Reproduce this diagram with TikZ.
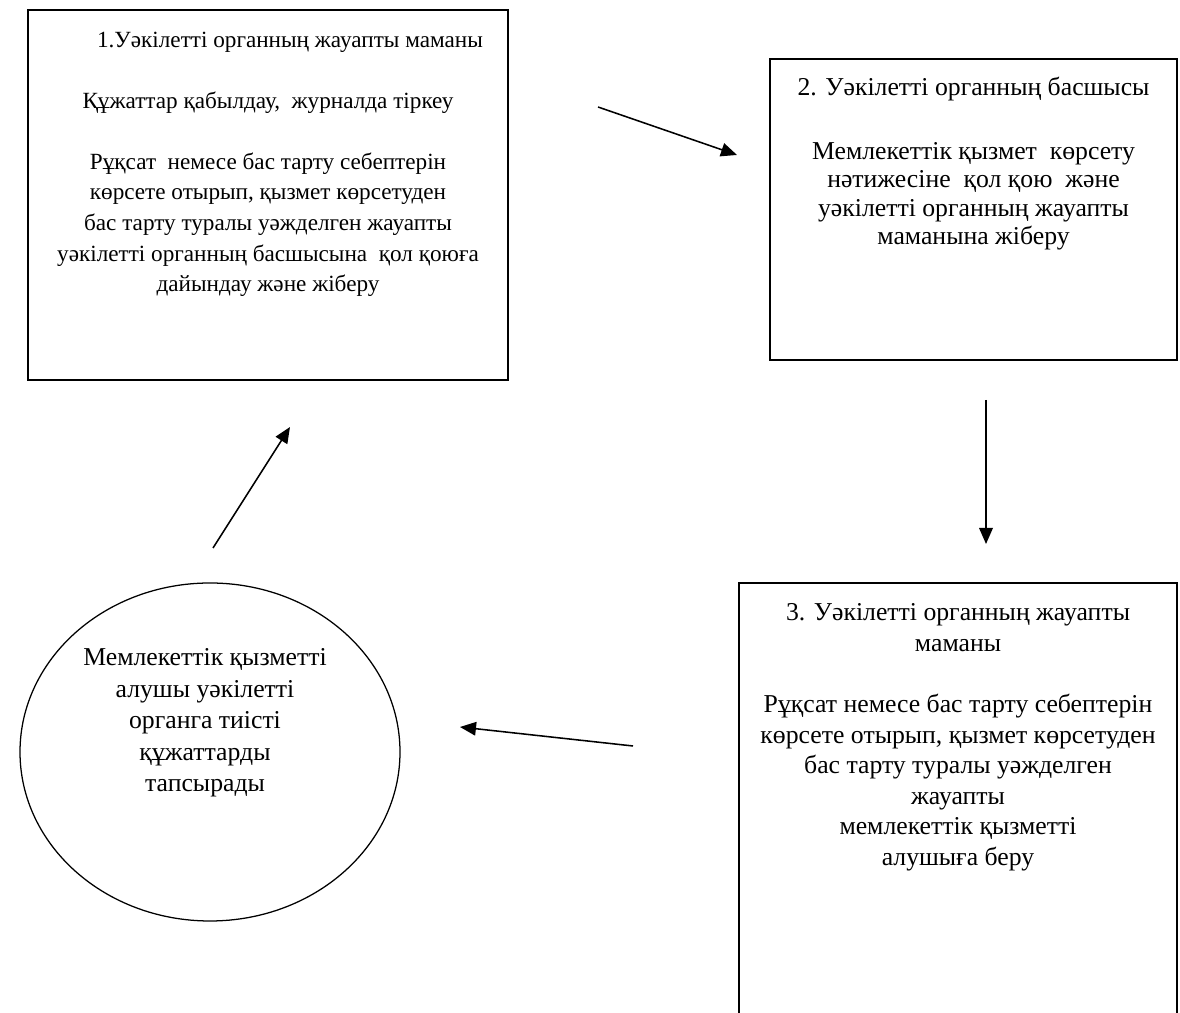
\documentclass[tikz,border=0pt]{standalone}
\usepackage{fontspec}
\setmainfont{Liberation Serif}
\usetikzlibrary{positioning,shapes,arrows.meta}

\begin{document}
\begin{tikzpicture}[line width=1.2pt,
    boxnode/.style={draw,rectangle,inner sep=0pt},
    txtnode/.style={align=center,inner sep=0pt,font=\fontsize{16.5}{21.8}\selectfont},
    bigtxt/.style={txtnode,font=\fontsize{18.3}{21.7}\selectfont},
    arr/.style={-{Triangle[length=4mm,width=3.4mm]},line width=1.1pt}
    ]
    \useasboundingbox (0,0) rectangle (29.5,25.325);
    \clip (0,0) rectangle (29.5,25.325);

    \node (b1) [boxnode,minimum width=12cm,minimum height=9.25cm] at (6.7,20.45) {};
    \node (b2) [boxnode,minimum width=10.175cm,minimum height=7.525cm] at (24.3375,20.0875) {};
    \node (b3) [boxnode,minimum width=10.95cm,minimum height=11.05cm] at (23.95,5.225) {};
    \node (e1) [draw,ellipse,inner sep=0pt,line width=0.9pt,minimum width=9.5cm,minimum height=8.45cm] at (5.25,6.525) {};

    % the texts
    \node (t1) [txtnode,below=0.55cm of b1.north] {\hspace*{1.1cm}1.Уәкілетті органның жауапты маманы\\[21.5pt]
        Құжаттар қабылдау,~ журналда тіркеу\\[21.5pt]
        Рұқсат~ немесе бас тарту себептерін\\ көрсете отырып, қызмет көрсетуден\\
        бас тарту туралы уәжделген жауапты\\ уәкілетті органның басшысына~ қол қоюға\\
        дайындау және жіберу};
    \node (t2) [bigtxt,font=\fontsize{18.3}{20.3}\selectfont,below=0.45cm of b2.north] {2. Уәкілетті органның басшысы\\[25pt]
        Мемлекеттік қызмет~ көрсету\\ нәтижесіне~ қол қою~ және\\
        уәкілетті органның жауапты\\ маманына жіберу};
    \node (t3) [bigtxt,below=0.52cm of b3.north] {3. Уәкілетті органның жауапты\\ маманы\\[22pt]
        Рұқсат немесе бас тарту себептерін\\ көрсете отырып, қызмет көрсетуден\\
        бас тарту туралы уәжделген\\ жауапты\\ мемлекеттік қызметті\\ алушыға беру};
    \node (t4) [bigtxt,font=\fontsize{18.3}{22.4}\selectfont] at (5.125,7.25) {Мемлекеттік қызметті\\ алушы уәкілетті\\
        органга тиісті\\ құжаттарды\\ тапсырады};

    % the arrows
    \coordinate (p1) at (14.95,22.65);
    \coordinate (p2) at (18.425,21.45);
    \coordinate (p3) at (24.65,15.325);
    \coordinate (p4) at (24.65,11.725);
    \coordinate (p5) at (15.825,6.675);
    \coordinate (p6) at (11.5,7.15);
    \coordinate (p7) at (5.325,11.625);
    \coordinate (p8) at (7.25,14.65);
    \draw [arr] (p1) -- (p2);
    \draw [arr] (p3) -- (p4);
    \draw [arr] (p5) -- (p6);
    \draw [arr] (p7) -- (p8);
\end{tikzpicture}
\end{document}
